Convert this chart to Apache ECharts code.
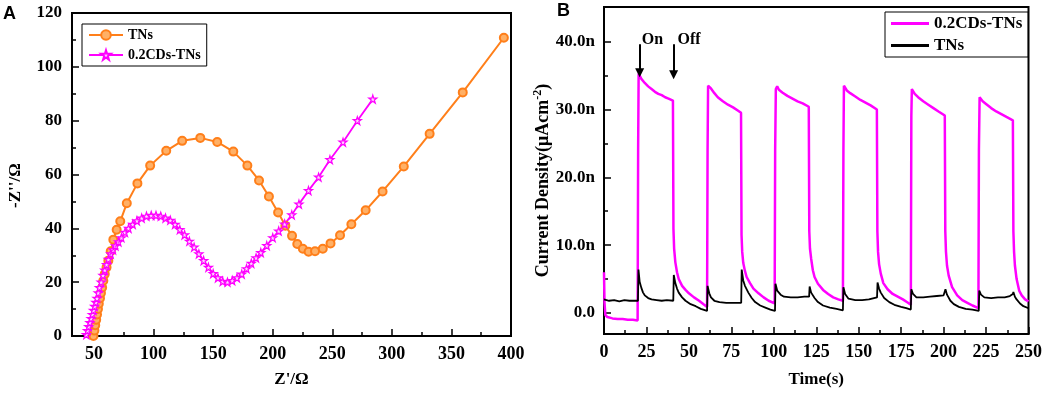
<!DOCTYPE html>
<html>
<head>
<meta charset="utf-8">
<script src="https://cdn.jsdelivr.net/npm/echarts@6/dist/echarts.min.js"></script>
<style>
  html, body { margin: 0; padding: 0; background: #fff; }
  #chart { width: 1045px; height: 393px; }
</style>
</head>
<body>
<div id="chart"></div>
<script>
// A: Nyquist plot, [Z', -Z'']
var tnsEis = [
    [49.5, 0], [50.3, 2], [51, 4], [51.8, 6], [52.5, 8], [53.3, 10], [54, 12], [55, 14], [55.8, 16],
    [56.8, 18], [57.8, 20.5], [59, 23], [60.5, 25.5], [62, 28], [64, 31.5], [66.2, 35.8], [69, 39.5],
    [72, 42.6], [77.5, 49.3], [86.4, 56.7], [97.1, 63.3], [110.6, 68.8], [124, 72.5], [139.2, 73.6],
    [153.4, 72.1], [166.9, 68.5], [178.7, 63.3], [188.5, 57.8], [196.8, 51.8], [204.5, 45.9],
    [210.6, 41], [216.2, 37.2], [220.6, 34.2], [225.3, 32.4], [230.1, 31.3], [235.5, 31.5],
    [242, 32.4], [248.5, 34.4], [256.5, 37.4], [266, 41.5], [278, 46.7], [292.2, 53.7],
    [310, 63], [331.7, 75.1], [359.5, 90.5], [394, 110.8]
];
var cdsEis = [
    [43.5, 0.5], [44.5, 2], [45.5, 3.5], [46.5, 5], [47.5, 6.5], [48.5, 8], [49.5, 9.5], [50.5, 11],
    [51.5, 12.5], [52.5, 14], [53.5, 16], [54.5, 18], [56, 20], [57.5, 22.5], [59, 24.5], [60.5, 26.5],
    [62, 28.5], [64, 30.5], [66, 32], [68, 33.5], [70.5, 35], [73, 36.5], [76, 38.5], [79, 40],
    [82.5, 41.5], [86, 42.8], [90, 43.8], [94, 44.5], [98, 44.8], [102, 44.8], [106, 44.5],
    [110, 43.8], [114, 43], [118, 41.5], [122, 39.5], [126, 37.6], [130, 35.2], [134, 33],
    [138, 30.5], [142, 28], [146, 25.5], [150, 23.2], [154, 21.6], [158, 20.3], [162, 20],
    [166, 20.6], [170, 21.6], [174, 23], [178, 25], [182, 27], [186, 29], [190, 31],
    [195, 33.6], [200, 36.5], [205, 39], [210, 41.6], [216, 45], [222, 49], [230, 54],
    [238.5, 59], [248, 65.5], [259, 72], [271, 80], [284, 88]
];
var eisXTicks = [50, 100, 150, 200, 250, 300, 350, 400];
var eisXMinor = [75, 125, 175, 225, 275, 325, 375];

// B: photocurrent, [time s, current n]
var cdsPhoto = [
    [0, 6], [0.3, 1.5], [0.8, -0.3], [2, -0.6], [5, -0.8], [8, -0.9], [11, -0.9], [14, -1.0], [17, -1.0], [19.8, -1.1],
    [20.1, 24], [20.4, 35.3], [21, 35.2], [22, 34.5], [24, 33.9], [26, 33.4], [28, 33], [30, 32.6], [32, 32.3], [34, 32.1], [36, 31.8], [38, 31.6], [40.6, 31.3],
    [40.9, 12.4], [41.3, 9.5], [42, 7.5], [43, 6], [44, 5], [46, 4], [48, 3.4], [50, 2.9], [53, 2.3], [56, 1.8], [59, 1.2], [60.7, 0.9],
    [61, 24], [61.3, 33.5], [62, 33.7], [63, 33.1], [65, 32.4], [67, 31.8], [70, 31.2], [73, 30.7], [76, 30.3], [79, 29.8], [80.7, 29.5],
    [81, 11.5], [81.4, 9], [82, 7.4], [83, 6.2], [84, 5.3], [86, 4.4], [88, 3.6], [91, 2.9], [94, 2.3], [97, 1.8], [100.5, 1.4],
    [100.8, 24], [101.2, 33], [102, 33.4], [103, 32.9], [105, 32.5], [108, 32], [111, 31.6], [114, 31.2], [117, 30.9], [120.6, 30.4],
    [120.9, 12], [121.3, 9.5], [122, 8], [123, 6.3], [124, 5.3], [126, 4.3], [129, 3.4], [132, 2.8], [135, 2.3], [138, 2], [140.7, 1.8],
    [141, 24], [141.3, 33.5], [142, 33.3], [143, 32.8], [145, 32.4], [148, 31.9], [151, 31.4], [154, 31], [157, 30.6], [160.7, 30],
    [161, 12], [161.4, 9], [162, 7.2], [163, 5.8], [164.5, 4.4], [167, 3.5], [170, 2.8], [173, 2.4], [176, 2], [179, 1.5], [180.7, 1.2],
    [181, 29], [181.3, 33], [182, 32.8], [183, 32.3], [185, 31.8], [188, 31.2], [191, 30.7], [194, 30.2], [197, 29.7], [200.7, 29.1],
    [201, 12], [201.4, 9], [202, 7], [203, 5.5], [205, 3.8], [208, 2.6], [211, 1.9], [214, 1.5], [217, 1.1], [220.5, 0.7],
    [220.8, 24], [221.2, 31.8], [222, 31.6], [223, 31.2], [225, 30.8], [228, 30.2], [231, 29.7], [234, 29.3], [237, 28.9], [240.8, 28.4],
    [241.1, 12], [241.5, 9], [242, 7], [243, 5], [244.5, 3.3], [246, 2.6], [248, 2], [250, 1.7]
];
var tnsPhoto = [
    [0, 2.0], [3, 1.8], [6, 1.9], [9, 1.7], [12, 1.9], [15, 1.8], [18, 1.8], [20, 1.8],
    [20.3, 6.4], [21, 4.6], [22, 3.7], [23, 3], [24, 2.6], [26, 2.2], [28, 2], [31, 1.9], [34, 1.8], [37, 1.9], [40.8, 1.8],
    [41.1, 5.6], [42, 4.4], [43, 3.6], [44, 3], [46, 2.3], [48, 1.8], [51, 1.3], [54, 1], [57, 0.6], [60.7, 0.3],
    [61, 4.0], [62, 2.9], [63, 2.3], [65, 1.8], [68, 1.6], [72, 1.5], [76, 1.5], [80.8, 1.5],
    [81.1, 6.4], [82, 4.8], [83, 4], [85, 3], [87, 2.2], [89, 1.6], [92, 1.1], [95, 0.8], [98, 0.5], [100.7, 0.3],
    [101, 4.3], [102, 3.3], [104, 2.7], [106, 2.4], [110, 2.3], [114, 2.3], [118, 2.4], [120.8, 2.4],
    [121.1, 3.9], [122, 3], [124, 2.2], [126, 1.6], [129, 1.1], [133, 0.8], [137, 0.6], [140.7, 0.4],
    [141, 3.8], [142, 2.8], [144, 2.1], [148, 1.9], [152, 1.9], [156, 2], [159, 2.2], [160.8, 2.3],
    [161.1, 4.5], [162, 3.6], [163, 3], [165, 2.2], [168, 1.6], [171, 1.2], [175, 0.9], [178, 0.7], [180.7, 0.5],
    [181, 3.5], [182, 2.8], [184, 2.3], [188, 2.3], [192, 2.4], [196, 2.5], [200, 2.6], [200.8, 2.8],
    [201.1, 3.5], [202, 2.7], [204, 1.8], [206, 1.3], [209, 0.9], [213, 0.6], [217, 0.5], [220.7, 0.3],
    [221, 3.3], [222, 2.7], [224, 2.3], [228, 2.2], [232, 2.3], [236, 2.3], [239, 2.5], [240.8, 2.8],
    [241.1, 3.1], [242, 2.4], [243, 2], [245, 1.4], [247, 1], [250, 0.7]
];
var photoYTicks = [0, 10, 20, 30, 40];
var photoYMinor = [5, 15, 25, 35];

var FONT = "'Liberation Serif', 'Times New Roman', serif";
var ORANGE = '#ff7f1a';
var MAGENTA = '#ff00ff';
var STAR = 'path://M50,2 L61,36 L97,36 L68,57 L79,92 L50,71 L21,92 L32,57 L3,36 L39,36 Z';

var chart = echarts.init(document.getElementById('chart'));

function mainAxis(extra) {
    var ax = {
        type: 'value',
        axisLine: { show: true, onZero: false, lineStyle: { color: '#000', width: 2 } },
        axisTick: { show: true, inside: true, length: 7, lineStyle: { color: '#000', width: 1.5 } },
        axisLabel: { color: '#000', fontFamily: FONT, fontWeight: 'bold', fontSize: 17 },
        splitLine: { show: false },
        nameTextStyle: { color: '#000', fontFamily: FONT, fontWeight: 'bold', fontSize: 17 }
    };
    return Object.assign(ax, extra);
}
function minorAxis(extra) {
    var ax = {
        type: 'value',
        axisLine: { show: false },
        axisTick: { show: true, inside: true, length: 4, lineStyle: { color: '#000', width: 1.5 } },
        axisLabel: { show: false },
        splitLine: { show: false }
    };
    return Object.assign(ax, extra);
}

var option = {
    animation: false,
    backgroundColor: '#fff',
    grid: [
        { left: 72, top: 13, width: 439, height: 326, show: true, borderColor: '#000', borderWidth: 2 },
        { left: 604, top: 7, width: 426, height: 328, show: true, borderColor: '#000', borderWidth: 2 }
    ],
    legend: [
        {
            orient: 'vertical', left: 82, top: 24,
            data: ['TNs', '0.2CDs-TNs'],
            borderColor: '#000', borderWidth: 1, padding: [4, 6, 4, 6],
            itemWidth: 34, itemHeight: 12, itemGap: 6,
            textStyle: { color: '#000', fontFamily: FONT, fontWeight: 'bold', fontSize: 14 }
        },
        {
            orient: 'vertical', left: 885, top: 12,
            data: [{ name: '0.2CDs-TNs (B)', icon: 'rect' }, { name: 'TNs (B)', icon: 'rect' }],
            formatter: function (n) { return n.replace(' (B)', ''); },
            borderColor: '#000', borderWidth: 1, padding: [3, 6, 3, 6],
            itemWidth: 38, itemHeight: 3, itemGap: 5,
            textStyle: { color: '#000', fontFamily: FONT, fontWeight: 'bold', fontSize: 17 }
        }
    ],
    xAxis: [
        mainAxis({
            gridIndex: 0, min: 31.5, max: 400,
            axisTick: { show: true, inside: true, length: 7, customValues: eisXTicks, lineStyle: { color: '#000', width: 1.5 } },
            axisLabel: { customValues: eisXTicks, color: '#000', fontFamily: FONT, fontWeight: 'bold', fontSize: 18, margin: 9 },
            name: "Z'/Ω", nameLocation: 'middle', nameGap: 35
        }),
        minorAxis({ gridIndex: 0, min: 31.5, max: 400, position: 'bottom',
            axisTick: { show: true, inside: true, length: 4, customValues: eisXMinor, lineStyle: { color: '#000', width: 1.5 } } }),
        mainAxis({
            gridIndex: 1, min: 0, max: 250, interval: 25,
            axisLabel: { color: '#000', fontFamily: FONT, fontWeight: 'bold', fontSize: 18, margin: 9 },
            minorTick: { show: true, splitNumber: 2, length: 4, lineStyle: { color: '#000', width: 1.5 } },
            name: 'Time(s)', nameLocation: 'middle', nameGap: 37
        })
    ],
    yAxis: [
        mainAxis({
            gridIndex: 0, min: 0, max: 120, interval: 20,
            axisLabel: { color: '#000', fontFamily: FONT, fontWeight: 'bold', fontSize: 17, margin: 10 },
            minorTick: { show: true, splitNumber: 2, length: 4, lineStyle: { color: '#000', width: 1.5 } },
            name: "-Z''/Ω", nameLocation: 'middle', nameGap: 48, nameRotate: 90,
            nameTextStyle: { color: '#000', fontFamily: FONT, fontWeight: 'bold', fontSize: 17, padding: [0, 22, 0, 0] }
        }),
        mainAxis({
            gridIndex: 1, min: -3.1, max: 45.1,
            axisTick: { show: true, inside: true, length: 7, customValues: photoYTicks, lineStyle: { color: '#000', width: 1.5 } },
            axisLabel: {
                customValues: photoYTicks, color: '#000', fontFamily: FONT, fontWeight: 'bold', fontSize: 17, margin: 9,
                formatter: function (v) { return v === 0 ? '0.0' : v.toFixed(1) + 'n'; }
            },
            name: 'Current Density(μAcm{sup|-2})', nameLocation: 'middle', nameGap: 50, nameRotate: 90,
            nameTextStyle: {
                color: '#000', fontFamily: FONT, fontWeight: 'bold', fontSize: 18, padding: [0, 20, 0, 0],
                rich: { sup: { fontFamily: FONT, fontWeight: 'bold', fontSize: 12, padding: [0, 0, 9, 0] } }
            }
        }),
        minorAxis({ gridIndex: 1, min: -3.1, max: 45.1, position: 'left',
            axisTick: { show: true, inside: true, length: 4, customValues: photoYMinor, lineStyle: { color: '#000', width: 1.5 } } })
    ],
    series: [
        {
            name: 'TNs', type: 'line', xAxisIndex: 0, yAxisIndex: 0,
            data: tnsEis, symbol: 'circle', symbolSize: 8,
            lineStyle: { color: ORANGE, width: 2 },
            itemStyle: { color: '#ffb066', borderColor: ORANGE, borderWidth: 2 }
        },
        {
            name: '0.2CDs-TNs', type: 'line', xAxisIndex: 0, yAxisIndex: 0,
            data: cdsEis, symbol: STAR, symbolSize: 8,
            lineStyle: { color: MAGENTA, width: 1.8 },
            itemStyle: { color: '#ffd6ff', borderColor: MAGENTA, borderWidth: 1.2 }
        },
        {
            name: '0.2CDs-TNs (B)', type: 'line', xAxisIndex: 2, yAxisIndex: 1,
            data: cdsPhoto, showSymbol: false, symbol: 'none',
            lineStyle: { color: MAGENTA, width: 2.5 }, itemStyle: { color: MAGENTA },
            markLine: {
                silent: true, symbol: ['none', 'triangle'], symbolSize: 9, symbolRotate: 180,
                label: { show: false },
                lineStyle: { color: '#000', width: 2, type: 'solid' },
                itemStyle: { color: '#000' },
                data: [
                    [{ coord: [21, 39.6] }, { coord: [21, 35.4] }],
                    [{ coord: [41, 39.6] }, { coord: [41, 35.1] }]
                ]
            },
            markPoint: {
                silent: true, symbol: 'circle', symbolSize: 0,
                label: { show: true, position: 'right', distance: 0, color: '#000', fontFamily: FONT, fontWeight: 'bold', fontSize: 16 },
                data: [
                    { coord: [22.2, 40.3], value: 'On' },
                    { coord: [43.3, 40.3], value: 'Off' }
                ]
            }
        },
        {
            name: 'TNs (B)', type: 'line', xAxisIndex: 2, yAxisIndex: 1,
            data: tnsPhoto, showSymbol: false, symbol: 'none',
            lineStyle: { color: '#000', width: 1.8 }, itemStyle: { color: '#000' }
        }
    ],
    graphic: [
        { type: 'text', left: 3, top: 5, style: { text: 'A', fontFamily: "'Liberation Sans', Arial, sans-serif", fontWeight: 'bold', fontSize: 18, fill: '#000' } },
        { type: 'text', left: 557, top: 2, style: { text: 'B', fontFamily: "'Liberation Sans', Arial, sans-serif", fontWeight: 'bold', fontSize: 18, fill: '#000' } }
    ]
};
chart.setOption(option);
</script>
</body>
</html>
